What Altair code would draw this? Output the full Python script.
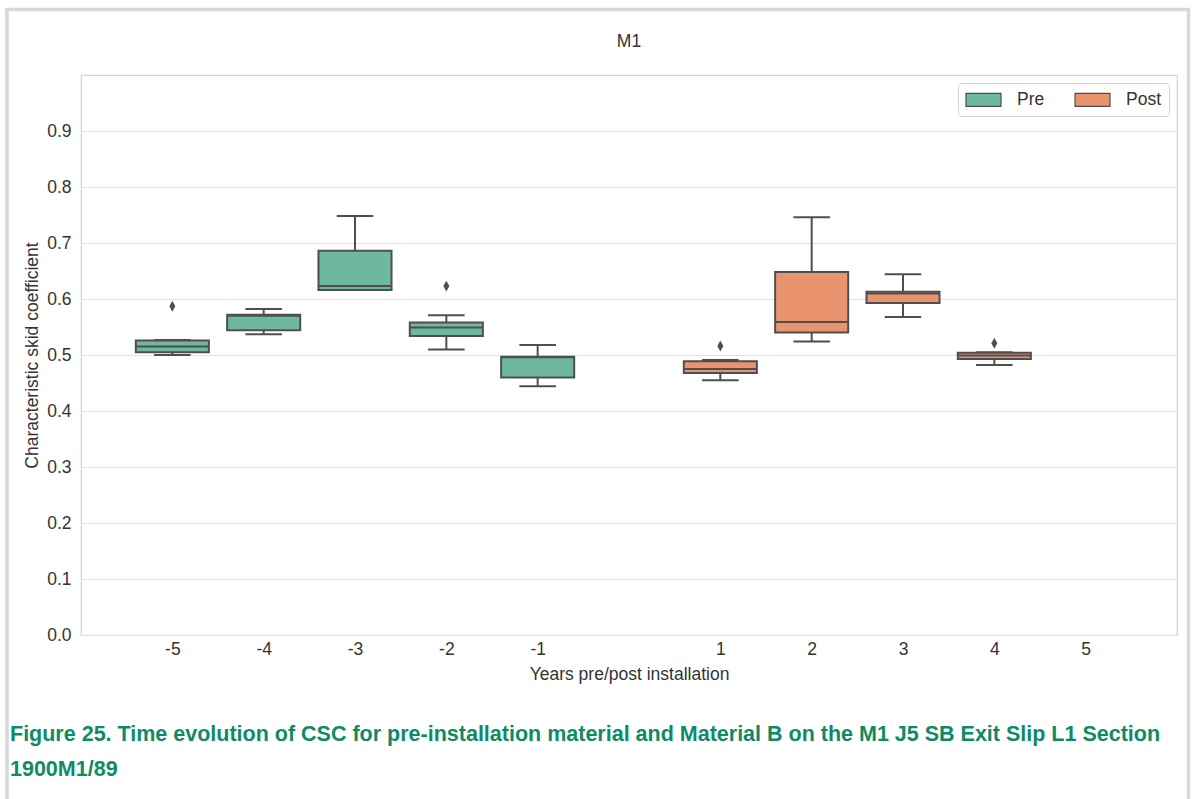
import altair as alt
import pandas as pd

# Per-year box statistics of the characteristic skid coefficient (CSC)
years = [-5, -4, -3, -2, -1, 1, 2, 3, 4]
phase = ["Pre", "Pre", "Pre", "Pre", "Pre", "Post", "Post", "Post", "Post"]
whisker_low = [0.500, 0.537, 0.616, 0.510, 0.444, 0.455, 0.524, 0.568, 0.482]
q1 = [0.505, 0.544, 0.616, 0.534, 0.460, 0.468, 0.540, 0.593, 0.493]
median = [0.515, 0.570, 0.623, 0.549, 0.496, 0.475, 0.559, 0.610, 0.499]
q3 = [0.526, 0.572, 0.686, 0.558, 0.497, 0.489, 0.648, 0.613, 0.504]
whisker_high = [0.527, 0.582, 0.748, 0.571, 0.518, 0.491, 0.746, 0.644, 0.505]

# Fliers beyond the whiskers
outlier_years = [-5, -2, 1, 4]
outlier_values = [0.587, 0.623, 0.516, 0.521]

x_tick_values = [-5, -4, -3, -2, -1, 1, 2, 3, 4, 5]
y_tick_values = [0.0, 0.1, 0.2, 0.3, 0.4, 0.5, 0.6, 0.7, 0.8, 0.9]

panel_title = "M1"
x_title = "Years pre/post installation"
y_title = "Characteristic skid coefficient"
caption = ("Figure 25.  Time evolution of CSC for pre-installation material and "
           "Material B on the M1 J5 SB Exit Slip L1 Section\n1900M1/89")

PRE_COLOR = "#6db89e"
POST_COLOR = "#ea936f"
EDGE = "#4f4f4f"
FONT = "Liberation Sans"
TEXT = "#333333"

boxes = pd.DataFrame({
    "year": years,
    "phase": phase,
    "lo": whisker_low,
    "q1": q1,
    "med": median,
    "q3": q3,
    "hi": whisker_high,
})
fliers = pd.DataFrame({"year": outlier_years, "value": outlier_values})
single = pd.DataFrame({"k": [0]})

x_scale = alt.Scale(domain=[-6, 6], nice=False, zero=False)
y_scale = alt.Scale(domain=[0, 1.0], nice=False, zero=True)

x_axis = alt.Axis(values=x_tick_values, labelExpr="'' + datum.value", grid=False,
                  ticks=False, domain=False, labelPadding=5, titlePadding=8,
                  title=x_title)
y_axis = alt.Axis(values=y_tick_values, format=".1f", grid=True, ticks=False,
                  domain=False, labelPadding=10, titlePadding=5, title=y_title)


def X(field):
    return alt.X(field, type="quantitative", scale=x_scale, axis=x_axis)


def Y(field):
    return alt.Y(field, type="quantitative", scale=y_scale, axis=y_axis)


base = alt.Chart(boxes).transform_calculate(
    left="datum.year - 0.4",
    right="datum.year + 0.4",
    cap_l="datum.year - 0.2",
    cap_r="datum.year + 0.2",
)

whiskers = base.mark_rule(color=EDGE, strokeWidth=2).encode(
    x=X("year"), y=Y("lo"), y2="hi:Q"
)
cap_low = base.mark_rule(color=EDGE, strokeWidth=2).encode(
    x=X("cap_l"), x2="cap_r:Q", y=Y("lo")
)
cap_high = base.mark_rule(color=EDGE, strokeWidth=2).encode(
    x=X("cap_l"), x2="cap_r:Q", y=Y("hi")
)
box = base.mark_rect(stroke=EDGE, strokeWidth=2).encode(
    x=X("left"), x2="right:Q", y=Y("q1"), y2="q3:Q",
    color=alt.Color(
        "phase:N",
        scale=alt.Scale(domain=["Pre", "Post"], range=[PRE_COLOR, POST_COLOR]),
        legend=alt.Legend(
            title=None, orient="top-right", direction="horizontal", columns=2,
            # wide swatch: path spans twice the symbol slot horizontally
            symbolType="M-2,-0.74H2V0.74H-2Z", symbolSize=306, symbolOffset=9,
            symbolStrokeColor=EDGE, symbolStrokeWidth=1.2, symbolOpacity=1,
            labelFont=FONT, labelFontSize=17.5, labelColor=TEXT,
            labelOffset=24, columnPadding=27, padding=7, offset=8,
            strokeColor="#d2d2d2", fillColor="white", cornerRadius=3,
        ),
    ),
)
medians = base.mark_rule(color=EDGE, strokeWidth=2).encode(
    x=X("left"), x2="right:Q", y=Y("med")
)
outliers = alt.Chart(fliers).mark_point(
    shape="M0,-1L0.55,0L0,1L-0.55,0Z", filled=True, color=EDGE, opacity=1, size=120
).encode(x=X("year"), y=Y("value"))

title_text = alt.Chart(single).mark_text(
    font=FONT, fontSize=17.5, color=TEXT, align="center", baseline="middle"
).encode(x=alt.value(548), y=alt.value(-33), text=alt.value(panel_title))

caption_text = alt.Chart(single).mark_text(
    font=FONT, fontSize=21.5, fontWeight="bold", color="#0f8a66", align="left",
    baseline="middle", lineBreak="\n", lineHeight=35
).encode(x=alt.value(-71), y=alt.value(660), text=alt.value(caption))

# Light page frame around the figure
frame_color = "#d6d9dc"
frame_left = alt.Chart(single).mark_rule(color=frame_color, strokeWidth=3.5).encode(
    x=alt.value(-74), y=alt.value(-67), y2=alt.value(724)
)
frame_top = alt.Chart(single).mark_rule(color=frame_color, strokeWidth=3.5).encode(
    x=alt.value(-76), x2=alt.value(1109), y=alt.value(-65.5)
)
frame_right = alt.Chart(single).mark_rule(color=frame_color, strokeWidth=3.5).encode(
    x=alt.value(1107.5), y=alt.value(-67), y2=alt.value(724)
)

chart = alt.layer(
    whiskers, cap_low, cap_high, box, medians, outliers,
    title_text, caption_text, frame_left, frame_top, frame_right,
).properties(
    width=1096,
    height=560,
    padding={"left": 81, "top": 75, "right": 15, "bottom": 164},
    autosize=alt.AutoSizeParams(type="none"),
    background="white",
).configure_view(
    stroke="#d4d4d4", strokeWidth=1.2
).configure_axis(
    labelFont=FONT, titleFont=FONT, labelFontSize=17.5, titleFontSize=17.5,
    labelColor=TEXT, titleColor=TEXT, titleFontWeight="normal",
    gridColor="#e2e2e2", gridWidth=1.2,
)

chart.save("out.html", embed_options={"renderer": "svg", "actions": False})
